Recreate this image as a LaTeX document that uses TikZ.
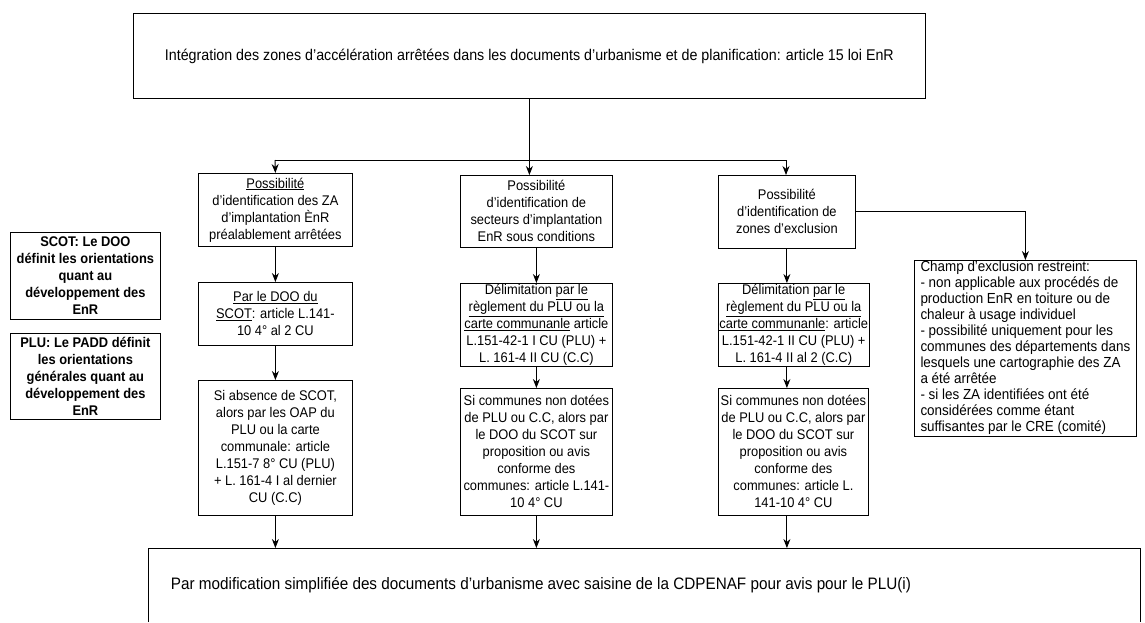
\documentclass[tikz,border=0pt]{standalone}
\usepackage{fontspec}
\setmainfont[FakeStretch=0.92]{Liberation Sans}
\usetikzlibrary{arrows.meta, positioning}
\newcommand{\diagfont}{\fontsize{14}{17}\selectfont}
\newcommand{\listfont}{\fontsize{14.6}{16}\selectfont}
\newcommand{\titlefont}{\fontsize{15.5}{18}\selectfont}
\newcommand{\footfont}{\fontsize{16.6}{19}\selectfont}
\tikzset{
  block/.style={rectangle, draw=black, line width=0.8pt,
    align=center, inner sep=1pt, font=\diagfont, anchor=north west},
  noteblock/.style={block, font=\diagfont\bfseries},
  listblock/.style={block, align=left, font=\listfont},
  arrow/.style={-{Stealth[length=9pt,width=7pt]}, line width=0.9pt},
  line/.style={line width=0.9pt}
}

\begin{document}
\begin{tikzpicture}[x=1pt, y=-1pt]
  \useasboundingbox (0,0) rectangle (1145,622);
  % title
  \node[block, font=\titlefont, minimum width=792, minimum height=85] (top) at (133,13)
    {Intégration des zones d'accélération arrêtées dans les documents d'urbanisme et de planification: article 15 loi EnR};
  % left notes
  \node[noteblock, minimum width=150, minimum height=87] (scot) at (10,232)
    {SCOT: Le DOO\\définit les orientations\\quant au\\développement des\\EnR};
  \node[noteblock, minimum width=150, minimum height=86] (plu) at (10,333)
    {PLU: Le PADD définit\\les orientations\\générales quant au\\développement des\\EnR};
  % first column
  \node[block, minimum width=154, minimum height=73] (a1) at (198,173)
    {\underline{Possibilité}\\d'identification des ZA\\d'implantation ÈnR\\préalablement arrêtées};
  \node[block, minimum width=154, minimum height=63] (a2) at (198,282)
    {\underline{Par le DOO du}\\\underline{SCOT}: article L.141-\\10 4° al 2 CU};
  \node[block, minimum width=154, minimum height=135] (a3) at (198,380)
    {Si absence de SCOT,\\alors par les OAP du\\PLU ou la carte\\communale: article\\L.151-7 8° CU (PLU)\\+ L. 161-4 I al dernier\\CU (C.C)};
  % second column
  \node[block, minimum width=152, minimum height=72] (b1) at (460,175)
    {Possibilité\\d'identification de\\secteurs d'implantation\\EnR sous conditions};
  \node[block, minimum width=152, minimum height=72] (b2) at (460,283)
    {Délimitation \underline{par le}\\\underline{règlement du PLU ou la}\\\underline{carte communanle} article\\L.151-42-1 I CU (PLU) +\\L. 161-4 II CU (C.C)};
  \node[block, minimum width=152, minimum height=127] (b3) at (460,388)
    {Si communes non dotées\\de PLU ou C.C, alors par\\le DOO du SCOT sur\\proposition ou avis\\conforme des\\communes: article L.141-\\10 4° CU};
  % third column
  \node[block, minimum width=137, minimum height=73] (c1) at (718,175)
    {Possibilité\\d'identification de\\zones d'exclusion};
  \node[block, minimum width=150, minimum height=72] (c2) at (718,283)
    {Délimitation \underline{par le}\\\underline{règlement du PLU ou la}\\\underline{carte communanle}: article\\L.151-42-1 II CU (PLU) +\\L. 161-4 II al 2 (C.C)};
  \node[block, minimum width=150, minimum height=127] (c3) at (718,388)
    {Si communes non dotées\\de PLU ou C.C, alors par\\le DOO du SCOT sur\\proposition ou avis\\conforme des\\communes: article L.\\141-10 4° CU};
  % exclusion
  \node[listblock, minimum width=222, minimum height=175] (excl) at (914,260)
    {Champ d'exclusion restreint:\\- non applicable aux procédés de\\production EnR en toiture ou de\\chaleur à usage individuel\\- possibilité uniquement pour les\\communes des départements dans\\lesquels une cartographie des ZA\\a été arrêtée\\- si les ZA identifiées ont été\\considérées comme étant\\suffisantes par le CRE (comité)};
  % bottom
  \draw[line] (148,622) -- (148,548) -- (1140,548) -- (1140,622);
  \node[font=\footfont] (bot) at (541,585)
    {Par modification simplifiée des documents d'urbanisme avec saisine de la CDPENAF pour avis pour le PLU(i)};
  \coordinate (botedge) at (148,548);

  \coordinate (hubL) at (275,160);
  \coordinate (hubR) at (786,160);
  \draw[line] (top.south) -- (top.south |- hubL);
  \draw[line] (hubL) -- (hubR);
  \draw[arrow] (hubL) -- (a1.north);
  \draw[arrow] (top.south |- hubL) -- (top.south |- b1.north);
  \draw[arrow] (hubR) -- (hubR |- c1.north);
  \draw[arrow] (a1) -- (a2);
  \draw[arrow] (a2) -- (a3);
  \draw[arrow] (b1) -- (b2);
  \draw[arrow] (b2) -- (b3);
  \draw[arrow] (c1.south) -- (c1.south |- c2.north);
  \draw[arrow] (c1.south |- c2.south) -- (c1.south |- c3.north);
  \draw[arrow] (c1.east) -| (excl.north);
  \draw[arrow] (a3.south) -- (a3.south |- botedge);
  \draw[arrow] (b3.south) -- (b3.south |- botedge);
  \draw[arrow] (c1.south |- c3.south) -- (c1.south |- botedge);
\end{tikzpicture}
\end{document}
